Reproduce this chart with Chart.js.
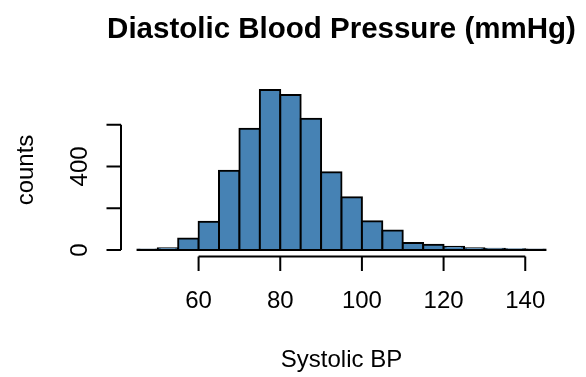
<!DOCTYPE html>
<html>
<head>
<meta charset="utf-8">
<script src="https://cdn.jsdelivr.net/npm/chart.js@4"></script>
<style>
  html, body { margin: 0; padding: 0; background: #fff; }
  #wrap { width: 586px; height: 377px; }
</style>
</head>
<body>
<div id="wrap"><canvas id="myChart" width="586" height="377"></canvas></div>
<script>
const binStarts = [45,50,55,60,65,70,75,80,85,90,95,100,105,110,115,120,125,130,135,140];
const counts = [2,8,55,135,380,580,766,742,628,372,252,138,93,33,25,16,8,6,4,2];
const binWidth = 5;
const xTicks = [60,80,100,120,140];
const yTicks = [0,200,400,600];
const yTickLabels = ['0','','400',''];

const titleText = 'Diastolic Blood Pressure (mmHg)';
const xTitle = 'Systolic BP';
const yTitle = 'counts';

const font = '"Liberation Sans", Arial, Helvetica, sans-serif';

// draws R-style axes, labels and the title from the chart's scales
const rAxes = {
  id: 'rAxes',
  afterDatasetsDraw(chart) {
    const ctx = chart.ctx;
    const xs = chart.scales.x, ys = chart.scales.y;
    const area = chart.chartArea;
    const tick = 14.5;
    ctx.save();
    ctx.strokeStyle = '#000';
    ctx.fillStyle = '#000';
    ctx.lineWidth = 2;

    // baseline under the bars
    ctx.beginPath();
    ctx.moveTo(xs.getPixelForValue(binStarts[0]), ys.getPixelForValue(0));
    ctx.lineTo(xs.getPixelForValue(binStarts[binStarts.length - 1] + binWidth), ys.getPixelForValue(0));
    ctx.stroke();

    // x axis
    const yb = area.bottom;
    ctx.beginPath();
    ctx.moveTo(xs.getPixelForValue(xTicks[0]), yb);
    ctx.lineTo(xs.getPixelForValue(xTicks[xTicks.length - 1]), yb);
    xTicks.forEach(v => {
      const px = xs.getPixelForValue(v);
      ctx.moveTo(px, yb);
      ctx.lineTo(px, yb + tick);
    });
    ctx.stroke();
    ctx.font = '24px ' + font;
    ctx.textAlign = 'center';
    ctx.textBaseline = 'alphabetic';
    xTicks.forEach(v => ctx.fillText(String(v), xs.getPixelForValue(v), 308));

    // y axis
    const xl = area.left;
    ctx.beginPath();
    ctx.moveTo(xl, ys.getPixelForValue(yTicks[0]));
    ctx.lineTo(xl, ys.getPixelForValue(yTicks[yTicks.length - 1]));
    yTicks.forEach(v => {
      const py = ys.getPixelForValue(v);
      ctx.moveTo(xl, py);
      ctx.lineTo(xl - tick, py);
    });
    ctx.stroke();
    yTicks.forEach((v, i) => {
      if (!yTickLabels[i]) return;
      ctx.save();
      ctx.translate(87, ys.getPixelForValue(v));
      ctx.rotate(-Math.PI / 2);
      ctx.fillText(yTickLabels[i], 0, 0);
      ctx.restore();
    });

    // axis titles
    const cx = (area.left + area.right) / 2;
    const cy = (area.top + area.bottom) / 2;
    ctx.fillText(xTitle, cx, 367);
    ctx.save();
    ctx.translate(33, cy);
    ctx.rotate(-Math.PI / 2);
    ctx.fillText(yTitle, 0, 0);
    ctx.restore();

    // main title
    ctx.font = 'bold 29.5px ' + font;
    ctx.fillText(titleText, cx, 38);
    ctx.restore();
  }
};

const ctx = document.getElementById('myChart').getContext('2d');
const myChart = new Chart(ctx, {
  type: 'bar',
  data: {
    datasets: [{
      label: yTitle,
      data: binStarts.map((b, i) => ({ x: b + binWidth / 2, y: counts[i] })),
      backgroundColor: '#4682B4',
      borderColor: '#000',
      borderWidth: 2,
      borderSkipped: false,
      inflateAmount: 1,
      barPercentage: 1,
      categoryPercentage: 1
    }]
  },
  options: {
    responsive: false,
    animation: false,
    layout: { padding: { left: 121, right: 24, top: 83.6, bottom: 120.6 } },
    plugins: { legend: { display: false }, tooltip: { enabled: false }, title: { display: false } },
    scales: {
      x: { type: 'linear', min: 41, max: 149, offset: false, display: false },
      y: { min: -30.6, max: 796.6, display: false }
    }
  },
  plugins: [rAxes]
});
</script>
</body>
</html>
